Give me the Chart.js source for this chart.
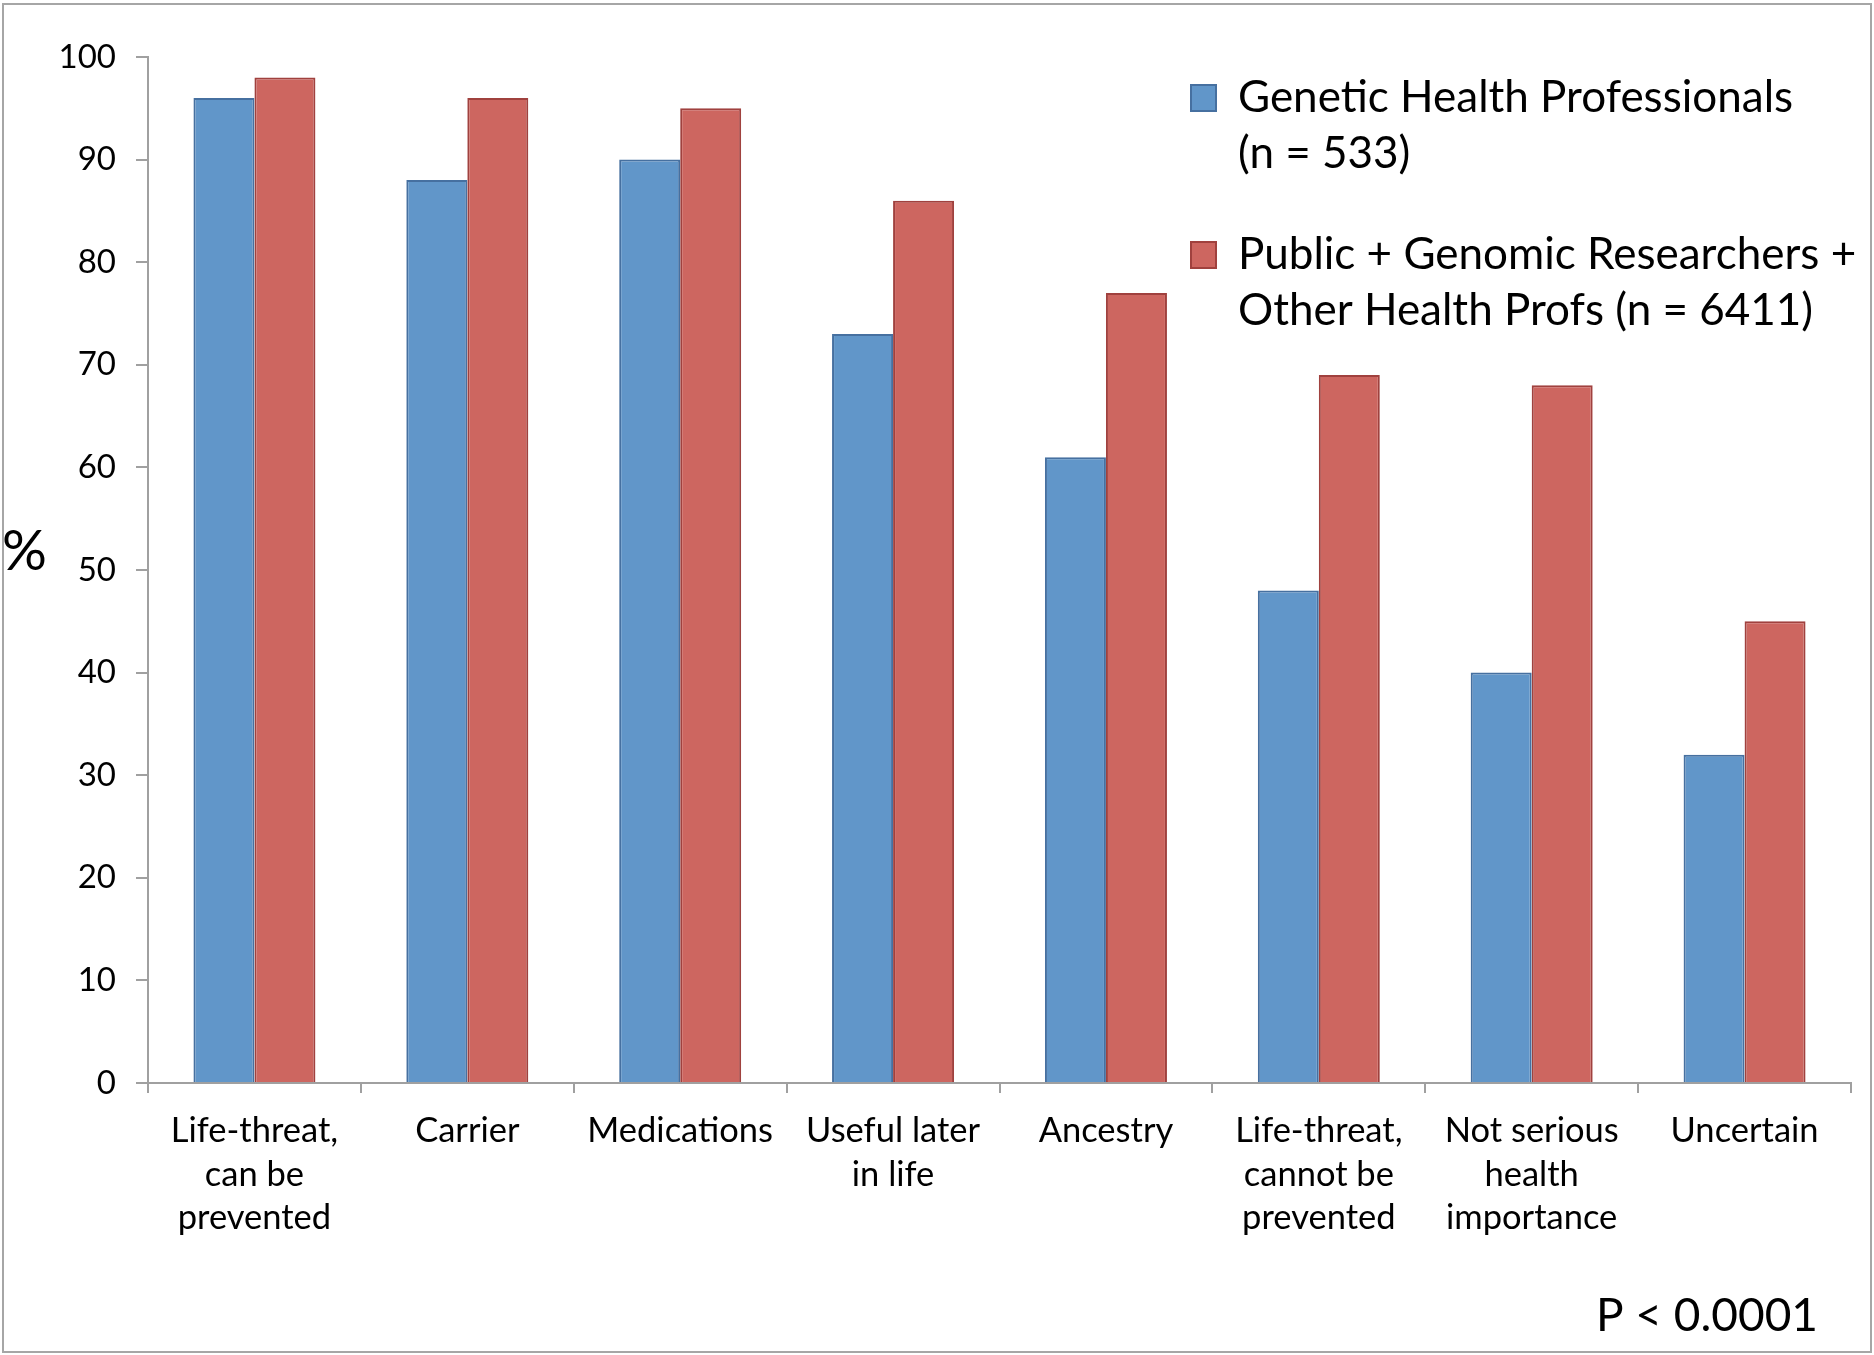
<!DOCTYPE html>
<html><head><meta charset="utf-8">
<script src="https://cdn.jsdelivr.net/npm/chart.js@4/dist/chart.umd.min.js"></script>
<style>html,body{margin:0;padding:0;background:#fff;} #wrap{width:1874px;height:1355px;position:relative;}</style>
</head><body><div id="wrap"><canvas id="c" width="1874" height="1355"></canvas></div>
<script>
// ---- data ----
const categories = [
  ["Life-threat,", "can be", "prevented"],
  "Carrier",
  "Medications",
  ["Useful later", "in life"],
  "Ancestry",
  ["Life-threat,", "cannot be", "prevented"],
  ["Not serious", "health", "importance"],
  "Uncertain"
];
const seriesNames = [
  ["Genetic Health Professionals", "(n = 533)"],
  ["Public + Genomic Researchers +", "Other Health Profs (n = 6411)"]
];
const geneticHealthProfessionals = [96, 88, 90, 73, 61, 48, 40, 32];
const publicResearchersOtherProfs = [98, 96, 95, 86, 77, 69, 68, 45];
const yTickValues = [0, 10, 20, 30, 40, 50, 60, 70, 80, 90, 100];
const yAxisLabel = "%";
const pValueNote = "P < 0.0001";

// ---- styles ----
const FONT = "Lato";
const AXIS_GRAY = "#a0a0a0";

const deco = {
  id: 'deco',
  afterLayout(chart) {
    const lg = chart.legend;
    if (lg) {
      const pad = lg.options.labels.padding;
      lg.left = 1191 - pad;
      lg.top = 76 - pad;
      lg.right = 1874;
    }
  },
  beforeDraw(chart) {
    const ctx = chart.ctx;
    ctx.save();
    ctx.fillStyle = '#fff';
    ctx.fillRect(0, 0, chart.width, chart.height);
    ctx.strokeStyle = '#a6a6a6';
    ctx.lineWidth = 2;
    ctx.strokeRect(3, 4, 1868, 1348);
    ctx.restore();
  },
  afterDraw(chart) {
    const ctx = chart.ctx;
    ctx.save();
    ctx.fillStyle = '#000';
    ctx.textBaseline = 'middle';
    ctx.font = `56px ${FONT}`;
    ctx.textAlign = 'left';
    ctx.fillText(yAxisLabel, 2, 552);
    ctx.font = `46px ${FONT}`;
    ctx.textAlign = 'right';
    ctx.fillText(pValueNote, 1818, 1316);
    ctx.restore();
  }
};

new Chart(document.getElementById('c'), {
  type: 'bar',
  data: {
    labels: categories,
    datasets: [
      { label: seriesNames[0].join(' '), data: geneticHealthProfessionals,
        backgroundColor: 'rgb(97,150,201)', borderColor: 'rgb(70,112,160)', borderWidth: 2,
        categoryPercentage: 0.573, barPercentage: 1.0 },
      { label: seriesNames[1].join(' '), data: publicResearchersOtherProfs,
        backgroundColor: 'rgb(205,102,96)', borderColor: 'rgb(160,65,62)', borderWidth: 2,
        categoryPercentage: 0.573, barPercentage: 1.0 }
    ]
  },
  options: {
    responsive: false,
    animation: false,
    devicePixelRatio: 1,
    layout: { padding: { left: 0, top: 57, right: 23, bottom: 0 } },
    plugins: {
      tooltip: { enabled: false },
      legend: {
        position: 'chartArea',
        align: 'start',
        labels: {
          font: { family: FONT, size: 44, lineHeight: 56 / 44 },
          color: '#000',
          boxWidth: 25,
          boxHeight: 26,
          padding: 45,
          generateLabels(chart) {
            const items = Chart.defaults.plugins.legend.labels.generateLabels(chart);
            items.forEach((it, i) => { it.text = seriesNames[i]; it.lineWidth = 2; });
            return items;
          }
        }
      }
    },
    scales: {
      x: {
        offset: true,
        grid: { display: true, drawOnChartArea: false, drawTicks: true, tickLength: 10, color: AXIS_GRAY, lineWidth: 2, offset: true },
        border: { display: true, color: AXIS_GRAY, width: 2 },
        ticks: { color: '#000', font: { family: FONT, size: 34.5, lineHeight: 43.6 / 34.5 }, padding: 16, maxRotation: 0, autoSkip: false },
        afterFit(scale) { scale.height = 272; }
      },
      y: {
        min: 0, max: 100,
        afterBuildTicks(scale) { scale.ticks = yTickValues.map(v => ({ value: v })); },
        grid: { display: true, drawOnChartArea: false, drawTicks: true, tickLength: 12, color: AXIS_GRAY, lineWidth: 2 },
        border: { display: true, color: AXIS_GRAY, width: 2 },
        ticks: { color: '#000', font: { family: FONT, size: 33 }, padding: 20 },
        afterFit(scale) { scale.width = 148; }
      }
    }
  },
  plugins: [deco]
});
</script>
</body></html>
